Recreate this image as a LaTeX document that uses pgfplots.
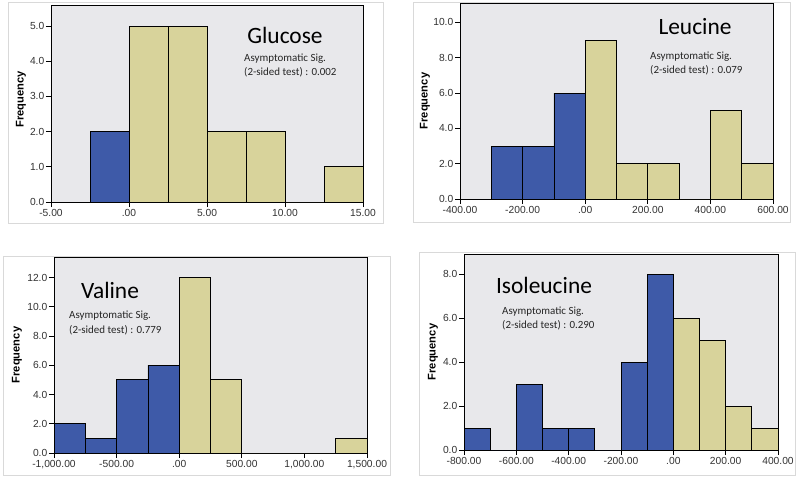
\documentclass[border=0pt]{standalone}
\usepackage{fontspec}
\setmainfont{Liberation Sans}
\newfontfamily\calfont{Carlito}
\usepackage{pgfplots}
\pgfplotsset{compat=1.18}
\definecolor{spssblue}{HTML}{3E5AA8}
\definecolor{spsstan}{HTML}{D8D39B}
\definecolor{spssbg}{HTML}{E8E8EB}
\pgfplotsset{hist/.style={
  scale only axis, anchor=south west,
  axis background/.style={fill=spssbg},
  ymin=0, tick align=outside, major tick length=5bp,
  xtick pos=left, ytick pos=left,
  axis line style={black, line width=0.8bp},
  tick style={black, line width=0.8bp},
  ticklabel style={font=\fontsize{10.3}{11}\selectfont, text=black!80},
  xticklabel style={inner sep=1.5bp, yshift=-1bp},
  yticklabel style={inner sep=1.5bp},
  ylabel={Frequency},
  /pgf/number format/assume math mode=true,
  clip=false
}}
\tikzset{bluebar/.style={ybar interval, fill=spssblue, draw=black, line width=0.8bp},
         tanbar/.style={ybar interval, fill=spsstan, draw=black, line width=0.8bp},
         ttl/.style={font=\calfont\fontsize{23.5}{25}\selectfont, anchor=center},
         sig/.style={font=\calfont\fontsize{11}{12}\selectfont, anchor=west, inner sep=0pt, text=black!85},
         flab/.style={font=\bfseries\fontsize{11.2}{12}\selectfont, anchor=center}}
\begin{document}
\begin{tikzpicture}
\fill[white] (0,0) rectangle (800bp,-477bp);
\useasboundingbox (0,0) rectangle (800bp,-477bp);
% panel frames
\draw[black!15, line width=0.7bp] (8bp,-2bp) rectangle (383bp,-223bp);
\draw[black!15, line width=0.7bp] (413bp,-2bp) rectangle (790bp,-222bp);
\draw[black!15, line width=0.7bp] (3bp,-256bp) rectangle (390bp,-475bp);
\draw[black!15, line width=0.7bp] (419bp,-252bp) rectangle (795bp,-475bp);

% Glucose
\begin{axis}[hist, at={(51bp,-202bp)}, width=312bp, height=197bp,
  xmin=-5, xmax=15, ymax=5.6,
  xtick={-5,0,5,10,15}, xticklabels={-5.00,.00,5.00,10.00,15.00},
  ytick={0,1,2,3,4,5}, yticklabels={0.0,1.0,2.0,3.0,4.0,5.0},
  ylabel style={flab, at={(axis description cs:-0.096,0.52)}}]
\addplot[bluebar] coordinates {(-2.5,2) (0,2)};
\addplot[tanbar] coordinates {(0,5) (2.5,5) (5,2) (7.5,2) (10,0) (12.5,1) (15,1)};
\end{axis}

% Leucine
\begin{axis}[hist, at={(460bp,-199bp)}, width=313bp, height=196bp,
  xmin=-400, xmax=600, ymax=11.1,
  xtick={-400,-200,0,200,400,600}, xticklabels={-400.00,-200.00,.00,200.00,400.00,600.00},
  ytick={0,2,4,6,8,10}, yticklabels={0.0,2.0,4.0,6.0,8.0,10.0},
  ylabel style={flab, at={(axis description cs:-0.112,0.5)}}]
\addplot[bluebar] coordinates {(-300,3) (-200,3) (-100,6) (0,6)};
\addplot[tanbar] coordinates {(0,9) (100,2) (200,2) (300,0) (400,5) (500,2) (600,2)};
\end{axis}

% Valine
\begin{axis}[hist, at={(54bp,-453bp)}, width=313bp, height=196bp,
  xmin=-1000, xmax=1500, ymax=13.4,
  xtick={-1000,-500,0,500,1000,1500}, xticklabels={{-1,000.00},{-500.00},{.00},{500.00},{1,000.00},{1,500.00}},
  ytick={0,2,4,6,8,10,12}, yticklabels={0.0,2.0,4.0,6.0,8.0,10.0,12.0},
  ylabel style={flab, at={(axis description cs:-0.118,0.5)}}]
\addplot[bluebar] coordinates {(-1000,2) (-750,1) (-500,5) (-250,6) (0,6)};
\addplot[tanbar] coordinates {(0,12) (250,5) (500,0) (750,0) (1000,0) (1250,1) (1500,1)};
\end{axis}

% Isoleucine
\begin{axis}[hist, at={(464bp,-450bp)}, width=314bp, height=196bp,
  xmin=-800, xmax=400, ymax=8.92,
  xtick={-800,-600,-400,-200,0,200,400}, xticklabels={-800.00,-600.00,-400.00,-200.00,.00,200.00,400.00},
  ytick={0,2,4,6,8}, yticklabels={0.0,2.0,4.0,6.0,8.0},
  ylabel style={flab, at={(axis description cs:-0.099,0.5)}}]
\addplot[bluebar] coordinates {(-800,1) (-700,0) (-600,3) (-500,1) (-400,1) (-300,0) (-200,4) (-100,8) (0,8)};
\addplot[tanbar] coordinates {(0,6) (100,5) (200,2) (300,1) (400,1)};
\end{axis}

% annotations
\node[ttl] at (285bp,-35bp) {Glucose};
\node[sig] at (244bp,-59bp) {Asymptomatic Sig.};
\node[sig] at (244bp,-72bp) {(2-sided test) : 0.002};

\node[ttl] at (695bp,-27bp) {Leucine};
\node[sig] at (650bp,-57bp) {Asymptomatic Sig.};
\node[sig] at (650bp,-70bp) {(2-sided test) : 0.079};

\node[ttl] at (110bp,-290bp) {Valine};
\node[sig] at (69bp,-316bp) {Asymptomatic Sig.};
\node[sig] at (69bp,-330bp) {(2-sided test) : 0.779};

\node[ttl] at (544bp,-285bp) {Isoleucine};
\node[sig] at (502bp,-312bp) {Asymptomatic Sig.};
\node[sig] at (502bp,-325bp) {(2-sided test) : 0.290};
\end{tikzpicture}
\end{document}
